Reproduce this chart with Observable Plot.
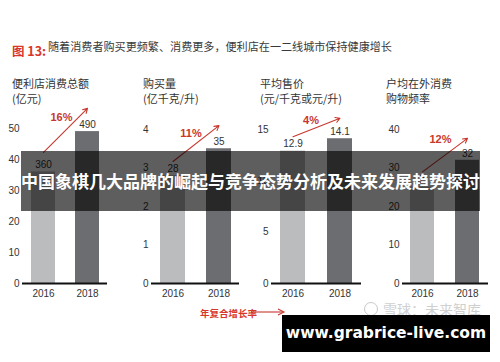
<!DOCTYPE html>
<html><head><meta charset="utf-8">
<script src="https://cdn.jsdelivr.net/npm/d3@7"></script>
<script src="https://cdn.jsdelivr.net/npm/@observablehq/plot@0.6"></script>
<style>
body{margin:0;background:#fff;}
#wrap{position:relative;width:500px;height:362px;overflow:hidden;background:#fff;font-family:"Noto Sans CJK SC","Noto Sans",sans-serif;color:#333;}
.abs{position:absolute;white-space:nowrap;}
.ptitle{font-size:11px;line-height:15px;color:#333;}
</style></head><body>
<div id="wrap"></div>
<script>
const years = ["2016", "2018"];
const titles = [["便利店消费总额", "(亿元)"], ["购买量", "(亿千克/升)"], ["平均售价", "(元/千克或元/升)"], ["户均在外消费", "购物频率"]];
const salesValues = [360, 490];
const volumeValues = [28, 35];
const priceValues = [12.9, 14.1];
const freqValues = [25, 32];
const valueLabels = [["360", "490"], ["28", "35"], ["12.9", "14.1"], ["25", "32"]];
const yTicks = [[0, 10, 20, 30, 40, 50], [0, 1, 2, 3, 4], [0, 5, 10, 15], [0, 10, 20, 30, 40]];
const growthLabels = ["16%", "11%", "4%", "12%"];
const arrowStartY = [423, 31.7, 14.3, 29];
const arrowEndY = [565, 41, 16.1, 37.7];
const growthLabelY = [535, 39, 15.9, 37.4];

const panels = [
  {values: salesValues, domain: [0, 50], transform: d => d / 10, left: 0, width: 117, ml: 22, mr: 10, tx: 12, mt: 28},
  {values: volumeValues, domain: [0, 4], transform: d => d / 10, left: 125, width: 124, ml: 26, mr: 10, tx: 143, mt: 29},
  {values: priceValues, domain: [0, 15], transform: d => d, left: 245, width: 126, ml: 26, mr: 10, tx: 260, mt: 29},
  {values: freqValues, domain: [0, 40], transform: d => d, left: 375, width: 125, ml: 27, mr: 12, tx: 386, mt: 29}
];
const wrap = document.getElementById("wrap");
const RED = "#c8372d";

function addDiv(html, style, cls) {
  const d = document.createElement("div");
  d.className = "abs " + (cls || "");
  d.innerHTML = html;
  Object.assign(d.style, style);
  wrap.appendChild(d);
  return d;
}

// Figure title
addDiv('<span style="color:#d9362b;font-weight:bold;font-size:12.5px;">图 13:</span>', {left: "12px", top: "37px"});
addDiv("随着消费者购买更频繁、消费更多，便利店在一二线城市保持健康增长", {left: "48px", top: "38px", fontSize: "11.1px", color: "#3a3a3a"});

panels.forEach((p, i) => {
  addDiv(titles[i][0] + "<br>" + titles[i][1], {left: p.tx + "px", top: "76px"}, "ptitle");
  const data = years.map((y, j) => ({year: y, value: p.values[j], label: valueLabels[i][j]}));
  const chart = Plot.plot({
    width: p.width,
    height: 200,
    marginLeft: p.ml,
    marginRight: p.mr,
    marginTop: p.mt,
    marginBottom: 17,
    style: {background: "transparent", fontSize: "10px", color: "#333", fontFamily: "'Liberation Sans', Arial, sans-serif", overflow: "visible"},
    x: {domain: years, paddingInner: 0.46, paddingOuter: 0.18, label: null},
    y: {domain: p.domain, transform: p.transform, label: null},
    marks: [
      Plot.barY(data, {x: "year", y: "value", fill: d => d.year === "2016" ? "#bbbcbe" : "#6c6d71"}),
      Plot.ruleY([0], {y: () => 0, stroke: "#111", strokeWidth: 2.2}),
      Plot.axisX({tickSize: 0, tickPadding: 6, label: null}),
      Plot.axisY({ticks: yTicks[i], tickSize: 0, tickPadding: 3, label: null, tickFormat: d => String(d)}),
      Plot.text(data, {x: "year", y: "value", text: "label", dy: -7, fill: "#333"}),
      Plot.arrow([0], {x1: () => years[0], x2: () => years[1], y1: () => arrowStartY[i], y2: () => arrowEndY[i], stroke: RED, strokeWidth: 1.1, headLength: 7, bend: 0}),
      Plot.text([growthLabels[i]], {x: () => years[0], y: () => growthLabelY[i], text: d => d, dx: 18, fill: RED, fontWeight: "bold", fontSize: 11})
    ]
  });
  Object.assign(chart.style, {position: "absolute", left: p.left + "px", top: "100px", maxWidth: "none"});
  wrap.appendChild(chart);
});

// footer legend: CAGR arrow
addDiv("年复合增长率", {left: "200px", top: "306px", fontSize: "9.5px", color: "#d9362b", fontWeight: "bold"});
const leg = d3.select(wrap).append("svg").attr("width", 40).attr("height", 10)
  .style("position", "absolute").style("left", "250px").style("top", "307px");
leg.append("line").attr("x1", 1).attr("x2", 33).attr("y1", 5).attr("y2", 5).attr("stroke", RED).attr("stroke-width", 1.1);
leg.append("path").attr("d", "M28,2 L34,5 L28,8").attr("fill", "none").attr("stroke", RED).attr("stroke-width", 1.1);

// watermark
addDiv('<span style="display:inline-block;width:12px;height:12px;border:1.5px solid #c8c8c8;border-radius:50%;vertical-align:-1px;margin-right:5px;"></span>雪球：未来智库', {left: "364px", top: "299px", fontSize: "14px", color: "#cfcfcf"});

// overlay banner
addDiv("中国象棋几大品牌的崛起与竞争态势分析及未来发展趋势探讨", {left: "21px", top: "151px", width: "459px", height: "60px", lineHeight: "60px", background: "rgba(0,0,0,0.63)", color: "#fff", fontWeight: "bold", fontSize: "17px", textAlign: "center", overflow: "hidden"});

// url box
addDiv("www.grabrice-live.com", {left: "282px", top: "315px", width: "208px", height: "37px", lineHeight: "37px", background: "#000", color: "#fff", fontWeight: "bold", fontSize: "15.5px", textAlign: "center", fontFamily: "'DejaVu Sans', sans-serif"});
</script>
</body></html>
